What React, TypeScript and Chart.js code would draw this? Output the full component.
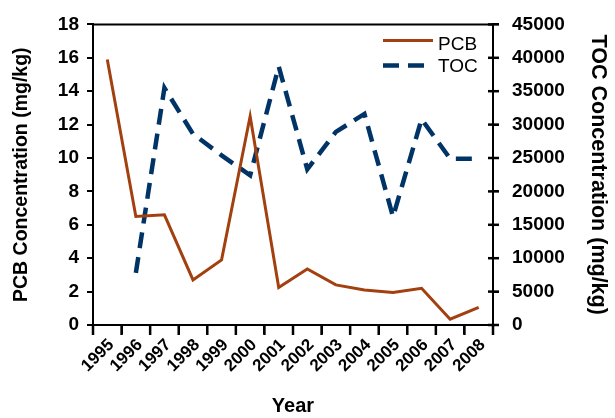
import React, { useEffect, useRef } from 'react';
import { Chart, registerables } from 'chart.js';

Chart.register(...registerables);

const years = ['1995', '1996', '1997', '1998', '1999', '2000', '2001', '2002', '2003', '2004', '2005', '2006', '2007', '2008'];
const pcbValues = [15.9, 6.5, 6.6, 2.7, 3.9, 12.5, 2.25, 3.35, 2.4, 2.1, 1.95, 2.2, 0.35, 1.05];
const tocValues: (number | null)[] = [null, 7800, 35500, 28600, 25400, 22400, 38700, 23300, 28900, 31600, 16200, 30800, 24900, 24900];

const pcbColor = '#A3400F';
const tocColor = '#003366';
const FONT = '"Liberation Sans", Arial, sans-serif';

const frameLegendPlugin = {
  id: 'frameLegend',
  afterDraw(chart: any) {
    const { ctx, chartArea } = chart;
    ctx.save();
    ctx.setLineDash([]);
    ctx.strokeStyle = '#000000';
    ctx.lineWidth = 2;
    ctx.lineCap = 'butt';
    // top border of plot frame
    ctx.beginPath();
    ctx.moveTo(chartArea.left - 1, chartArea.top);
    ctx.lineTo(chartArea.right + 1, chartArea.top);
    ctx.stroke();
    ctx.lineWidth = 2.5;
    // right-axis tick marks crossing the axis
    const y1 = chart.scales.y1;
    y1.ticks.forEach((t: any) => {
      const py = y1.getPixelForValue(t.value);
      ctx.beginPath();
      ctx.moveTo(chartArea.right - 5, py);
      ctx.lineTo(chartArea.right + 6, py);
      ctx.stroke();
    });
    // x-axis tick marks between categories
    const xs = chart.scales.x;
    const n = chart.data.labels.length;
    for (let i = 0; i <= n; i++) {
      const px = xs.getPixelForValue(i - 0.5);
      ctx.beginPath();
      ctx.moveTo(px, chartArea.bottom);
      ctx.lineTo(px, chartArea.bottom + 10);
      ctx.stroke();
    }
    // legend inside plot, top-right
    const ds = chart.data.datasets;
    const rowsY = [chartArea.top + 16, chartArea.top + 41];
    ds.forEach((d: any, i: number) => {
      const y = rowsY[i];
      ctx.strokeStyle = d.borderColor;
      ctx.lineWidth = d.borderWidth;
      ctx.setLineDash(d.borderDash || []);
      ctx.beginPath();
      ctx.moveTo(chartArea.right - 110, y);
      ctx.lineTo(chartArea.right - 60, y);
      ctx.stroke();
      ctx.setLineDash([]);
      ctx.fillStyle = '#000';
      ctx.font = `19px ${FONT}`;
      ctx.textAlign = 'left';
      ctx.textBaseline = 'middle';
      ctx.fillText(d.label, chartArea.right - 55, y + (i === 0 ? 4 : 1));
    });
    ctx.restore();
  },
};

export default function App() {
  const ref = useRef<HTMLCanvasElement | null>(null);
  useEffect(() => {
    if (!ref.current) return;
    const chart = new Chart(ref.current, {
      type: 'line',
      data: {
        labels: years,
        datasets: [
          {
            label: 'PCB',
            data: pcbValues,
            borderColor: pcbColor,
            backgroundColor: pcbColor,
            borderWidth: 3,
            pointRadius: 0,
            tension: 0,
            yAxisID: 'y',
          },
          {
            label: 'TOC',
            data: tocValues,
            borderColor: tocColor,
            backgroundColor: tocColor,
            borderWidth: 4.5,
            borderDash: [16, 9],
            pointRadius: 0,
            tension: 0,
            yAxisID: 'y1',
          },
        ],
      },
      options: {
        responsive: false,
        animation: false,
        layout: { padding: { top: 20, left: 0, right: 0, bottom: 0 } },
        plugins: {
          legend: { display: false },
          tooltip: { enabled: false },
        },
        scales: {
          x: {
            type: 'category',
            offset: true,
            grid: { offset: true, drawOnChartArea: false, color: '#000', lineWidth: 2, tickLength: 9 },
            border: { color: '#000', width: 2 },
            ticks: {
              color: '#000',
              font: { family: FONT, size: 17, weight: 'bold' },
              minRotation: 45,
              maxRotation: 45,
              autoSkip: false,
              padding: 1,
              labelOffset: 4,
            },
            title: {
              display: true,
              text: 'Year',
              color: '#000',
              font: { family: FONT, size: 20, weight: 'bold' },
              padding: { top: 0, bottom: 0 },
            },
            afterFit: (s: any) => { s.height = 93; },
          },
          y: {
            position: 'left',
            min: 0,
            max: 18,
            ticks: {
              stepSize: 2,
              color: '#000',
              font: { family: FONT, size: 19, weight: 'bold' },
              padding: 8,
            },
            grid: { drawOnChartArea: false, color: '#000', lineWidth: 2, tickLength: 6 },
            border: { color: '#000', width: 2 },
            title: {
              display: true,
              text: 'PCB Concentration (mg/kg)',
              color: '#000',
              font: { family: FONT, size: 19.5, weight: 'bold' },
              padding: { top: 10, bottom: 0 },
            },
            afterFit: (s: any) => { s.width = 93; },
          },
          y1: {
            position: 'right',
            min: 0,
            max: 45000,
            ticks: {
              stepSize: 5000,
              color: '#000',
              font: { family: FONT, size: 19, weight: 'bold' },
              padding: 13,
              callback: (v: any) => String(v),
            },
            grid: { drawOnChartArea: false, color: '#000', lineWidth: 2, tickLength: 6 },
            border: { color: '#000', width: 2 },
            title: {
              display: true,
              text: 'TOC Concentration (mg/kg)',
              color: '#000',
              font: { family: FONT, size: 21.5, weight: 'bold' },
              padding: { top: 4, bottom: 0 },
            },
            afterFit: (s: any) => { s.width = 122; },
          },
        },
      },
      plugins: [frameLegendPlugin],
    });
    return () => chart.destroy();
  }, []);
  return (
    <div style={{ position: 'absolute', left: 0, top: 0, width: 615, height: 418, background: '#fff' }}>
      <canvas ref={ref} width={615} height={418} style={{ width: 615, height: 418, display: 'block' }} />
    </div>
  );
}
